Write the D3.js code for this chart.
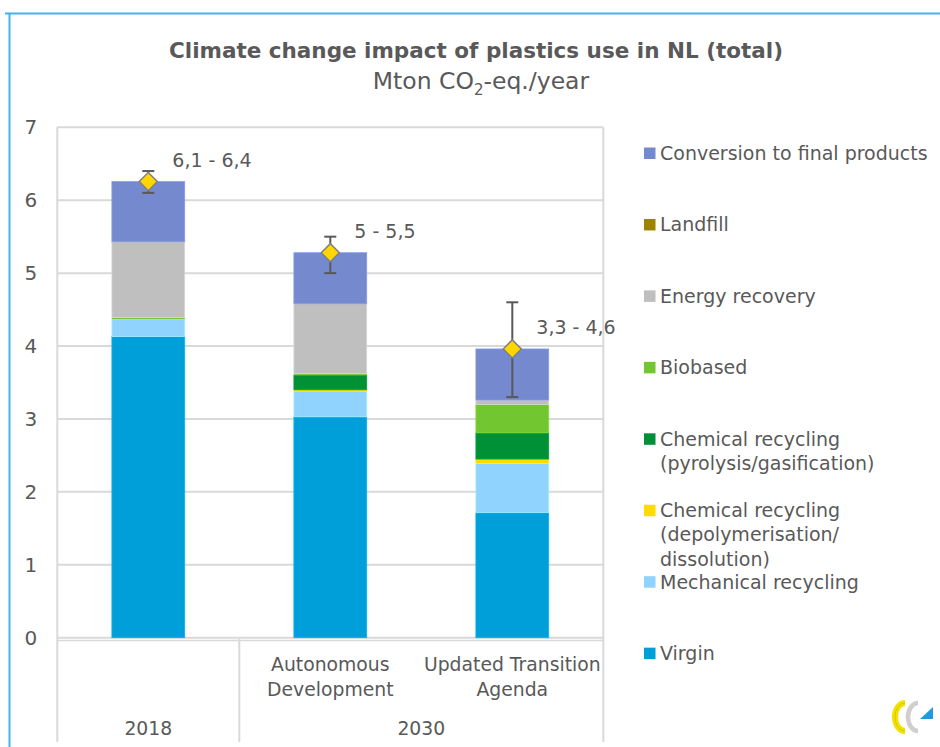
<!DOCTYPE html>
<html>
<head>
<meta charset="utf-8">
<script src="https://cdn.jsdelivr.net/npm/d3@7"></script>
<style>
  html, body { margin: 0; padding: 0; background: #ffffff; }
  svg { display: block; font-family: "DejaVu Sans", Verdana, sans-serif; }
</style>
</head>
<body>
<svg id="chart" width="940" height="747"></svg>
<script>
// Scenario categories and their grouping on the two-level axis
const categories = ["2018", "Autonomous Development", "Updated Transition Agenda"];
const categoryLines = [[], ["Autonomous", "Development"], ["Updated Transition", "Agenda"]];
const groupLabels = ["2018", "2030"];
const categoryGroup = [0, 1, 1];

// Stacked contributions, Mton CO2-eq./year (bottom to top)
const virgin         = [4.13, 3.03, 1.715];
const mechanical     = [0.24, 0.35, 0.675];
const chemDepoly     = [0.00, 0.02, 0.06];
const chemPyro       = [0.00, 0.20, 0.36];
const biobased       = [0.02, 0.02, 0.39];
const energyRecovery = [1.04, 0.96, 0.06];
const landfill       = [0.00, 0.00, 0.00];
const conversion     = [0.825, 0.70, 0.70];

// Uncertainty range per scenario
const rangeLow    = [6.1, 5.0, 3.3];
const rangeHigh   = [6.4, 5.5, 4.6];
const rangeLabels = ["6,1 - 6,4", "5 - 5,5", "3,3 - 4,6"];

const yTicks = [0, 1, 2, 3, 4, 5, 6, 7];

// Series in stacking order, with legend text lines
const series = [
  { key: "virgin",         values: virgin,         color: "#009FDA", legend: ["Virgin"] },
  { key: "mechanical",     values: mechanical,     color: "#8FD3FE", legend: ["Mechanical recycling"] },
  { key: "chemDepoly",     values: chemDepoly,     color: "#FFDB00", legend: ["Chemical recycling", "(depolymerisation/", "dissolution)"] },
  { key: "chemPyro",       values: chemPyro,       color: "#009036", legend: ["Chemical recycling", "(pyrolysis/gasification)"] },
  { key: "biobased",       values: biobased,       color: "#72C62F", legend: ["Biobased"] },
  { key: "energyRecovery", values: energyRecovery, color: "#BFBFBF", legend: ["Energy recovery"] },
  { key: "landfill",       values: landfill,       color: "#9E8300", legend: ["Landfill"] },
  { key: "conversion",     values: conversion,     color: "#7589CE", legend: ["Conversion to final products"] }
];

const textColor = "#595959";
const gridColor = "#D9D9D9";

const svg = d3.select("#chart");

// Outer frame accents
svg.append("line").attr("x1", 9.5).attr("x2", 9.5).attr("y1", 13).attr("y2", 747)
  .attr("stroke", "#45B3E5").attr("stroke-width", 2);
svg.append("line").attr("x1", 5).attr("x2", 940).attr("y1", 13.5).attr("y2", 13.5)
  .attr("stroke", "#45B3E5").attr("stroke-width", 2);

// Titles
svg.append("text").attr("x", 476).attr("y", 58).attr("text-anchor", "middle")
  .attr("fill", textColor).attr("font-size", 21.5).attr("font-weight", "bold")
  .text("Climate change impact of plastics use in NL (total)");
const sub = svg.append("text").attr("x", 481).attr("y", 89).attr("text-anchor", "middle")
  .attr("fill", textColor).attr("font-size", 23.5);
sub.append("tspan").text("Mton CO");
sub.append("tspan").attr("font-size", 15).attr("dy", 6).text("2");
sub.append("tspan").attr("dy", -6).text("-eq./year");

// Scales
const plotLeft = 57.3, plotRight = 603.3;
const x = d3.scaleBand().domain(categories).range([plotLeft, plotRight]).padding(0);
const y = d3.scaleLinear().domain([0, 7]).range([637.7, 127.3]);
const barW = x.bandwidth() * 0.4;

// Gridlines
svg.append("g").selectAll("line").data(yTicks).join("line")
  .attr("x1", plotLeft).attr("x2", plotRight)
  .attr("y1", d => y(d)).attr("y2", d => y(d))
  .attr("stroke", gridColor).attr("stroke-width", 2);

// Y axis labels
const yAxis = svg.append("g").attr("transform", `translate(${plotLeft},0)`)
  .call(d3.axisLeft(y).tickValues(yTicks).tickSize(0).tickPadding(20).tickFormat(d3.format("d")));
yAxis.select(".domain").remove();
yAxis.selectAll("text").attr("font-size", 20).attr("fill", textColor)
  .attr("font-family", "DejaVu Sans, Verdana, sans-serif");

// Category axis frame
const frameBottom = 742;
svg.append("line").attr("x1", plotLeft).attr("x2", plotRight).attr("y1", 640.5).attr("y2", 640.5)
  .attr("stroke", gridColor).attr("stroke-width", 1.5);
const boundaries = [plotLeft, x(categories[1]), plotRight];
svg.append("g").selectAll("line").data(boundaries).join("line")
  .attr("x1", d => d).attr("x2", d => d)
  .attr("y1", (d, i) => (i === 1 ? 639 : y(7)))
  .attr("y2", frameBottom)
  .attr("stroke", gridColor).attr("stroke-width", 2);

// Stacked bars
const table = categories.map((c, i) => {
  const row = { category: c };
  series.forEach(s => { row[s.key] = s.values[i]; });
  return row;
});
const stack = d3.stack().keys(series.map(s => s.key));
const stacked = stack(table);

const barsG = svg.append("g");
stacked.forEach((layer, li) => {
  const col = series[li].color;
  barsG.append("g").selectAll("rect").data(layer).join("rect")
    .attr("x", d => x(d.data.category) + (x.bandwidth() - barW) / 2)
    .attr("width", barW)
    .attr("y", d => y(d[1]))
    .attr("height", d => Math.max(0, y(d[0]) - y(d[1])))
    .attr("fill", col)
    .attr("stroke", d3.color(col).brighter(0.35))
    .attr("stroke-width", d => (d[1] - d[0] > 0.03 ? 0.8 : 0));
});

// Totals with uncertainty range
const totals = categories.map((c, i) => d3.sum(series, s => s.values[i]));
const cx = i => x(categories[i]) + x.bandwidth() / 2;
const errG = svg.append("g").attr("stroke", textColor).attr("stroke-width", 2);
categories.forEach((c, i) => {
  errG.append("line").attr("x1", cx(i)).attr("x2", cx(i))
    .attr("y1", y(rangeLow[i])).attr("y2", y(rangeHigh[i]));
  [rangeLow[i], rangeHigh[i]].forEach(v => {
    errG.append("line").attr("x1", cx(i) - 6).attr("x2", cx(i) + 6)
      .attr("y1", y(v)).attr("y2", y(v));
  });
});
svg.append("g").selectAll("path").data(totals).join("path")
  .attr("d", d3.symbol(d3.symbolSquare, 165))
  .attr("transform", (d, i) => `translate(${cx(i)},${y(d)}) rotate(45)`)
  .attr("fill", "#FFD600").attr("stroke", "#808080").attr("stroke-width", 1.5);

svg.append("g").selectAll("text").data(rangeLabels).join("text")
  .attr("x", (d, i) => cx(i) + 24)
  .attr("y", (d, i) => y(totals[i]) - 15)
  .attr("font-size", 19).attr("fill", textColor)
  .text(d => d);

// Category labels
const catG = svg.append("g").attr("fill", textColor).attr("font-size", 18.8).attr("text-anchor", "middle");
categoryLines.forEach((lines, i) => {
  lines.forEach((ln, j) => {
    catG.append("text").attr("x", cx(i)).attr("y", 671 + j * 24.5).text(ln);
  });
});
groupLabels.forEach((g, gi) => {
  const idx = categoryGroup.map((v, i) => (v === gi ? i : -1)).filter(i => i >= 0);
  const left = x(categories[idx[0]]);
  const right = x(categories[idx[idx.length - 1]]) + x.bandwidth();
  catG.append("text").attr("x", (left + right) / 2).attr("y", 735).text(g);
});

// Legend (top entry is the last series in the stack)
const legendItems = series.slice().reverse();
const legG = svg.append("g");
legendItems.forEach((s, i) => {
  const cyRow = 153 + i * 71.45;
  legG.append("rect").attr("x", 644).attr("y", cyRow - 5.5).attr("width", 11.5).attr("height", 11.5)
    .attr("fill", s.color);
  s.legend.forEach((ln, j) => {
    legG.append("text").attr("x", 660).attr("y", cyRow + j * 24.3).attr("dy", "0.36em")
      .attr("font-size", 19).attr("fill", textColor).text(ln);
  });
});

// Small brand mark in the corner
const logo = svg.append("g").attr("fill", "none");
logo.append("path").attr("d", "M905,703 A10,14 0 0,0 905,731").attr("stroke", "#F3E200").attr("stroke-width", 6);
logo.append("path").attr("d", "M905,703 A10,14 0 0,0 905,731").attr("stroke", "#D8C800").attr("stroke-width", 1);
logo.append("path").attr("d", "M918,703 A10,14 0 0,0 918,731").attr("stroke", "#CFCFCF").attr("stroke-width", 4.5);
logo.append("path").attr("d", "M920,719 L933,719 L933,707 Z").attr("fill", "#1E9BE0");
</script>
</body>
</html>
